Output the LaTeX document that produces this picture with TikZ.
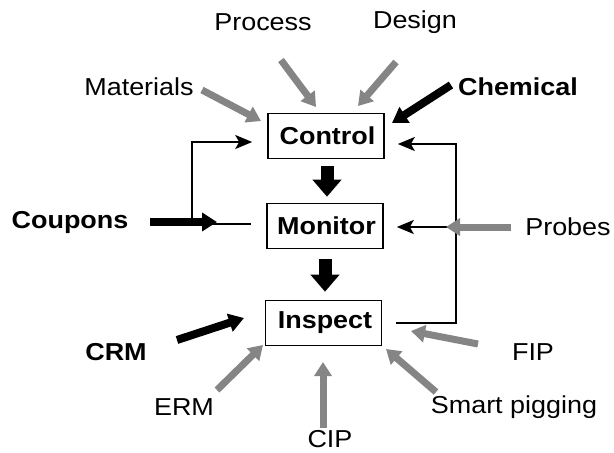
\documentclass[tikz,border=0pt]{standalone}
\usepackage{fontspec}
\setmainfont[FakeStretch=1.1]{Liberation Sans}
\usetikzlibrary{arrows.meta}
\begin{document}
\begin{tikzpicture}[x=1pt,y=-1pt,
  every node/.style={font=\fontsize{24.5}{28}\selectfont, inner sep=0pt},
  lbl/.style={},
  blbl/.style={font=\fontsize{24.5}{28}\selectfont\bfseries},
  box/.style={draw, line width=1.6pt, minimum width=116pt, minimum height=45pt,
     font=\fontsize{24.5}{28}\selectfont\bfseries},
  grayarr/.style={draw=black!48, line width=7pt, -{Triangle[length=14pt,width=17pt]}},
  blackarr/.style={draw=black, line width=8pt, -{Triangle[length=15pt,width=18pt]}},
  blockarr/.style={draw=black, line width=13pt, -{Triangle[length=17pt,width=28pt]}},
  fb/.style={draw=black, line width=2pt, -{Stealth[length=17pt,width=14pt,inset=4pt]}}
]
\useasboundingbox (0,0) rectangle (614,453);
\fill[white] (0,0) rectangle (614,453);

% boxes
\node[box] (control) at (326,136) {\hspace*{3pt}Control};
\node[box] (monitor) at (325,226) {\hspace*{3pt}Monitor};
\node[box] (inspect) at (323.5,323) {\hspace*{3pt}Inspect};

% labels
\node[lbl]  (process)   at (263,22)  {Process};
\node[lbl]  (design)    at (415,22)  {Design};
\node[lbl]  (materials) at (139,87)  {Materials};
\node[blbl] (chemical)  at (518,87)  {Chemical};
\node[blbl] (coupons)   at (70,222)  {Coupons};
\node[lbl]  (probes)    at (568,227) {Probes};
\node[blbl] (crm)       at (116,352) {CRM};
\node[lbl]  (erm)       at (184,407) {ERM};
\node[lbl]  (cip)       at (330,439) {CIP};
\node[lbl]  (fip)       at (533,352) {FIP};
\node[lbl]  (smart)     at (514,407) {Smart pigging};

% coordinates for free arrow ends
\coordinate (matT) at (202,90);   \coordinate (matH) at (261,121);
\coordinate (proT) at (281,60);   \coordinate (proH) at (316,107);
\coordinate (desT) at (396,62);   \coordinate (desH) at (358,106);
\coordinate (cheT) at (451,85);   \coordinate (cheH) at (392,123);
\coordinate (couT) at (150,222);  \coordinate (couH) at (217,222);
\coordinate (prbT) at (511,227);  \coordinate (prbH) at (446,227);
\coordinate (crmT) at (177,340);  \coordinate (crmH) at (244,318);
\coordinate (ermT) at (217,390);  \coordinate (ermH) at (263,345);
\coordinate (cipT) at (323,428);  \coordinate (cipH) at (323,362);
\coordinate (fipT) at (478,344);  \coordinate (fipH) at (411,331);
\coordinate (smtT) at (436,392);  \coordinate (smtH) at (386,349);

% feedback loops
\coordinate (lcorner) at (192,224);
\coordinate (rcorner) at (456,323);
\coordinate (rjoin) at (456,227);
\coordinate (mw) at ([xshift=-15pt]monitor.west);
\coordinate (me) at ([xshift=13pt]monitor.east);
\coordinate (ie) at ([xshift=14pt]inspect.east);
\coordinate (cw) at ([xshift=-15pt,yshift=-6pt]control.west);
\coordinate (ce) at ([xshift=13pt,yshift=-8pt]control.east);
\draw[fb] (lcorner -| mw) -- (lcorner) |- (cw);
\draw[fb] (rcorner -| ie) -- (rcorner) |- (ce);
\draw[fb] (rjoin) -- (rjoin -| me);

% input arrows
\draw[grayarr] (matT) -- (matH);
\draw[grayarr] (proT) -- (proH);
\draw[grayarr] (desT) -- (desH);
\draw[blackarr] (cheT) -- (cheH);
\draw[blackarr] (couT) -- (couH);
\draw[grayarr] (prbT) -- (prbH);
\draw[blackarr] (crmT) -- (crmH);
\draw[grayarr] (ermT) -- (ermH);
\draw[grayarr] (cipT) -- (cipH);
\draw[grayarr] (fipT) -- (fipH);
\draw[grayarr] (smtT) -- (smtH);

% block arrows between stages
\draw[blockarr, shorten <=7pt, shorten >=6pt] ([xshift=1pt]control.south) -- ([xshift=2pt]monitor.north);
\draw[blockarr, shorten <=10pt, shorten >=8pt] (monitor.south) -- ([xshift=1.5pt]inspect.north);
\end{tikzpicture}
\end{document}
